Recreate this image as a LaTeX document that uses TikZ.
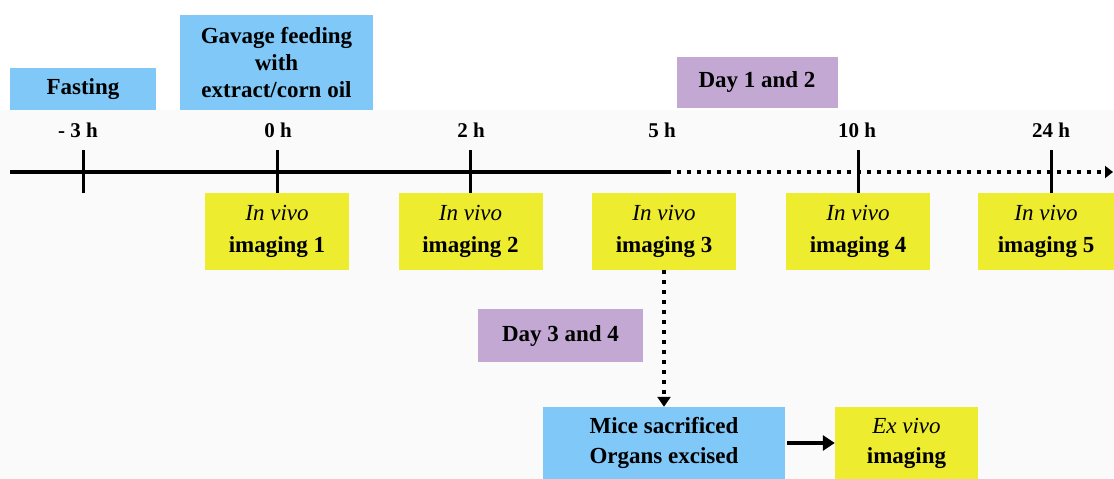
\documentclass[tikz,border=0pt]{standalone}
\usepackage{fontspec}
\setmainfont{Liberation Serif}
\usetikzlibrary{arrows.meta}
\definecolor{boxblue}{HTML}{7FC8F8}
\definecolor{boxyellow}{HTML}{EEEC2E}
\definecolor{boxpurple}{HTML}{C2A8D2}
\definecolor{bggray}{HTML}{FAFAFA}
\begin{document}
\begin{tikzpicture}[x=1pt,y=-1pt,
  box/.style={rectangle, inner sep=0pt, align=center, font=\fontsize{23}{27}\selectfont\bfseries},
  bluebox/.style={box, fill=boxblue},
  yelbox/.style={box, fill=boxyellow, font=\fontsize{23}{32}\selectfont\bfseries},
  purbox/.style={box, fill=boxpurple},
  ticklbl/.style={font=\fontsize{21}{22}\selectfont\bfseries, inner sep=0pt},
  tickline/.style={line width=3pt},
  solidline/.style={line width=4pt},
  dotline/.style={line width=4pt, dash pattern=on 4pt off 6pt},
]
\useasboundingbox (0,0) rectangle (1114,479);
\fill[white] (0,0) rectangle (1114,479);
\fill[bggray] (0,110) rectangle (1114,479);

% top boxes
\node[bluebox, minimum width=146pt, minimum height=42pt] (fast) at (83,89) {Fasting};
\node[bluebox, minimum width=193pt, minimum height=95pt] (gav) at (276.5,62.5) {Gavage feeding\\with\\extract/corn oil};
\node[purbox, minimum width=161pt, minimum height=51pt] (day12) at (757,82.5) {Day 1 and 2};

% tick labels
\node[ticklbl] (lm3) at (78,130) {- 3 h};
\node[ticklbl] (l0) at (278,130) {0 h};
\node[ticklbl] (l2) at (471,130) {2 h};
\node[ticklbl] (l5) at (662,130) {5 h};
\node[ticklbl] (l10) at (857,130) {10 h};
\node[ticklbl] (l24) at (1051,130) {24 h};

% imaging boxes
\node[yelbox, minimum width=144pt, minimum height=77pt] (img1) at (277,231.5) {\textmd{\textit{In vivo}}\\imaging 1};
\node[yelbox, minimum width=144pt, minimum height=77pt] (img2) at (470.5,231.5) {\textmd{\textit{In vivo}}\\imaging 2};
\node[yelbox, minimum width=144pt, minimum height=77pt] (img3) at (664,231.5) {\textmd{\textit{In vivo}}\\imaging 3};
\node[yelbox, minimum width=144pt, minimum height=77pt] (img4) at (858,231.5) {\textmd{\textit{In vivo}}\\imaging 4};
\node[yelbox, minimum width=136pt, minimum height=77pt] (img5) at (1046,231.5) {\textmd{\textit{In vivo}}\\imaging 5};

% bottom
\node[purbox, minimum width=165pt, minimum height=53pt] (day34) at (560.5,335.5) {Day 3 and 4};
\node[bluebox, minimum width=242pt, minimum height=72pt, font=\fontsize{23}{30}\selectfont\bfseries] (mice) at (664,443) {Mice sacrificed\\Organs excised};
\node[yelbox, minimum width=143pt, minimum height=72pt, font=\fontsize{23}{30}\selectfont\bfseries] (ex) at (906.5,443) {\textmd{\textit{Ex vivo}}\\imaging};

% timeline
\coordinate (tstart) at (10,172);
\coordinate (tmid) at (667,172);
\coordinate (tend) at (1113,172);
\draw[solidline] (tstart) -- (tmid);
\draw[dotline, -{Triangle[length=8pt,width=12pt]}] (tmid) -- (tend);

% ticks
\coordinate (tkm3) at (83,150);
\coordinate (tkm3b) at (83,193);
\draw[tickline] (tkm3) -- (tkm3b);
\draw[tickline] (img1.north) -- ++(0,-43);
\draw[tickline] (img2.north) -- ++(0,-43);
\draw[tickline] (img4.north) -- ++(0,-43);
\draw[tickline] ([xshift=5pt]img5.north) -- ++(0,-43);

% arrows
\draw[line width=3.5pt, dash pattern=on 3.5pt off 6.5pt, -{Triangle[length=10pt,width=13pt]}] (img3.south) -- (mice.north);
\draw[line width=4pt, -{Triangle[length=12pt,width=15pt]}] ([xshift=2pt]mice.east) -- (ex.west);
\end{tikzpicture}
\end{document}
